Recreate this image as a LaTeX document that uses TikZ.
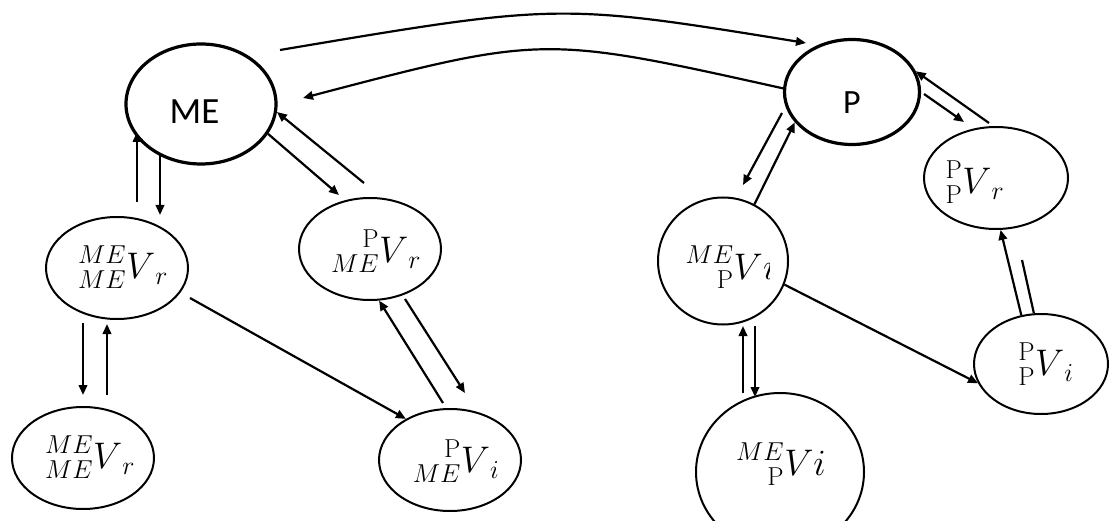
\RequirePackage{fix-cm}
\documentclass[tikz,border=0pt]{standalone}
\usepackage{mathtools}
\usepackage{fontspec}
\newfontfamily\labelsans{Carlito}
\usetikzlibrary{shapes.geometric,arrows.meta}
\pgfdeclarelayer{back}
\pgfsetlayers{back,main}

\tikzset{
  vstate/.style={ellipse, draw, fill=white, line width=2pt, inner sep=0pt},
  mainstate/.style={vstate, line width=3.2pt},
  mathlbl/.style={inner sep=0pt, font=\fontsize{37}{40}\selectfont},
  bigname/.style={inner sep=0pt, font=\labelsans\fontsize{37}{40}\selectfont},
  smallname/.style={inner sep=0pt, font=\labelsans\fontsize{34}{38}\selectfont},
  arr/.style={line width=2.2pt, -{Triangle[length=10pt,width=8.5pt]}},
  link/.style={line width=2.2pt}
}

\begin{document}
\begin{tikzpicture}[x=1pt,y=-1pt]
\useasboundingbox (0,0) rectangle (1110,521);

% states
\node[mainstate, minimum width=150pt, minimum height=120pt] (ME) at (201,104) {};
\node[mainstate, minimum width=135pt, minimum height=105pt] (P)  at (852,92) {};
\node[vstate, minimum width=142pt, minimum height=102pt] (A) at (117,268) {};
\node[vstate, minimum width=142pt, minimum height=102pt] (H) at (83,458) {};
\node[vstate, minimum width=142pt, minimum height=102pt] (B) at (370,249) {};
\node[vstate, minimum width=142pt, minimum height=102pt] (C) at (450,460) {};
\node[vstate, minimum width=130pt, minimum height=127pt] (D) at (723,261) {};
\node[vstate, minimum width=168pt, minimum height=158pt] (E) at (780,472) {};
\node[vstate, minimum width=144pt, minimum height=102pt] (F) at (996,178) {};
\node[vstate, minimum width=134pt, minimum height=100pt] (G) at (1041,364) {};

% labels
\node[bigname]   (MEt) at (194.5,111.5) {ME};
\node[smallname] (Pt)  at (852,103) {P};
\node[mathlbl] (At) at (123,267) {$\prescript{ME}{ME}{V}_r$};
\node[mathlbl] (Ht) at (90,457)  {$\prescript{ME}{ME}{V}_r$};
\node[mathlbl] (Bt) at (376,251) {$\prescript{\mathrm{P}}{ME}{V}_r$};
\node[mathlbl] (Ct) at (456,461) {$\prescript{\mathrm{P}}{ME}{V}_i$};
\node[mathlbl] (Et) at (781,464) {$\prescript{ME}{\mathrm{P}}{V}i$};
\node[mathlbl] (Ft) at (975,182) {$\prescript{\mathrm{P}}{\mathrm{P}}{V}_r$};
\node[mathlbl] (Gt) at (1046,364) {$\prescript{\mathrm{P}}{\mathrm{P}}{V}_i$};
\node[mathlbl, anchor=base east] (Dt) at (763,279) {$\prescript{ME}{\mathrm{P}}{V}$};
\begin{scope}
  \clip ([yshift=-0.5pt]Dt.base east) rectangle ([xshift=6pt,yshift=19pt]Dt.base east);
  \node[mathlbl, anchor=base west] (Dti) at (Dt.base east) {$i$};
\end{scope}

% free ends of the connectors
\coordinate (t1) at (280,50);   \coordinate (h1) at (806,43);
\coordinate (h2) at (303,98);
\coordinate (t3) at (137,202);  \coordinate (h3) at (137,132);
\coordinate (t4) at (160,155);  \coordinate (h4) at (160,215);
\coordinate (h5) at (339,195);
\coordinate (t6) at (364,183);
\coordinate (t7) at (83,323);   \coordinate (h7) at (83,395);
\coordinate (t8) at (107,395);  \coordinate (h8) at (107,324);
\coordinate (t9) at (190,298);
\coordinate (t10) at (443,403);
\coordinate (t11) at (405,299); \coordinate (h11) at (465,393);
\coordinate (t12) at (782,113); \coordinate (h12) at (743,185);
\coordinate (t14) at (989,123);
\coordinate (t15) at (924,94);  \coordinate (h15) at (964,122);
\coordinate (t17) at (1022,260);
\coordinate (t19) at (743,393); \coordinate (h19) at (743,326);
\coordinate (t20) at (755,326); \coordinate (h20) at (755,397);

\begin{pgfonlayer}{back}
  % ME <-> P
  \draw[arr] (t1) .. controls (559,3) .. (h1);
  \draw[arr] (P.177) .. controls (543,35) .. (h2);
  % ME <-> upper left state
  \draw[arr] (t3) -- (h3);
  \draw[arr] (t4) -- (h4);
  % ME <-> upper middle state
  \draw[arr] (ME.-24.5) -- (h5);
  \draw[arr] (t6) -- (ME.-6);
  % left column
  \draw[arr] (t7) -- (h7);
  \draw[arr] (t8) -- (h8);
  \draw[arr] (t9) -- (C.137);
  % middle column
  \draw[arr] (t10) -- (B.-80.5);
  \draw[arr] (t11) -- (h11);
  % P <-> left state
  \draw[arr] (t12) -- (h12);
  \draw[arr] (D.61.5) -- (P.208);
  % P <-> right state
  \draw[arr] (t14) -- (P.18);
  \draw[arr] (t15) -- (h15);
  % right column
  \draw[arr] (G.112) -- (F.-85.5);
  \draw[link] (G.98.6) -- (t17);
  \draw[arr] (D.-21) -- (G.197);
  % lower middle
  \draw[arr] (t19) -- (h19);
  \draw[arr] (t20) -- (h20);
\end{pgfonlayer}
\end{tikzpicture}
\end{document}
